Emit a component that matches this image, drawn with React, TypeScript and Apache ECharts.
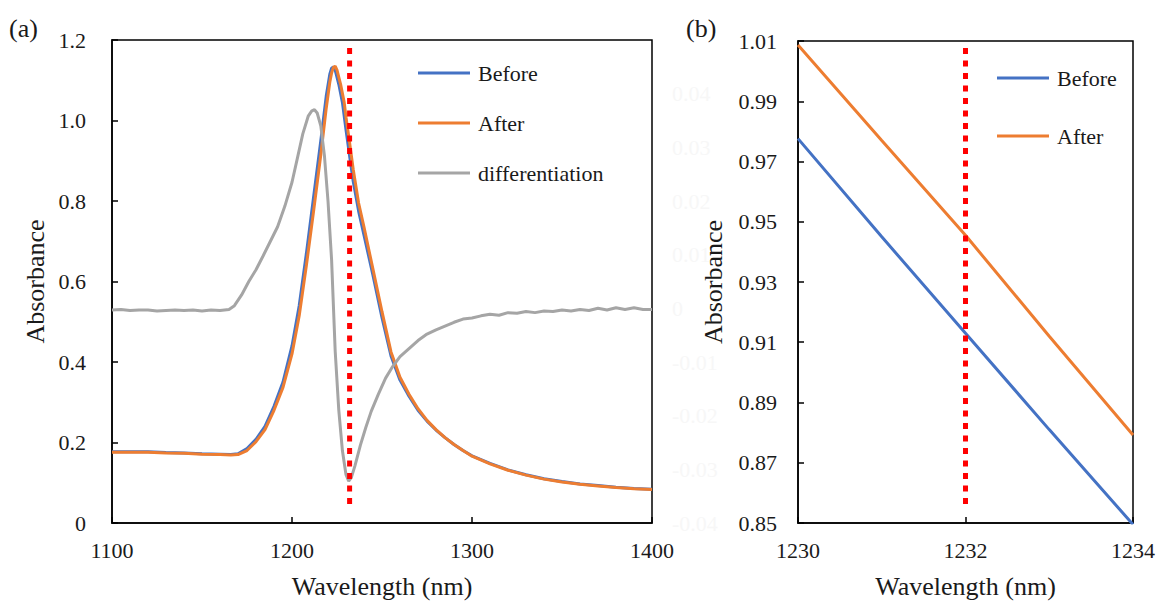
import React, { useEffect, useRef } from "react";
import * as echarts from "echarts";

// ---------- Panel (a) data ----------
const wlBeforeA = [1100, 1110, 1120, 1130, 1140, 1150, 1160, 1166, 1170, 1175, 1180, 1185, 1190, 1195, 1200, 1204, 1208, 1212, 1216, 1219, 1221, 1222, 1223, 1224, 1226, 1228, 1230, 1232, 1234, 1237, 1240, 1245, 1250, 1255, 1260, 1265, 1270, 1275, 1280, 1285, 1290, 1295, 1300, 1310, 1320, 1330, 1340, 1350, 1360, 1370, 1380, 1390, 1400];
const absBeforeA = [0.177, 0.177, 0.177, 0.175, 0.174, 0.172, 0.171, 0.170, 0.172, 0.185, 0.208, 0.240, 0.290, 0.350, 0.440, 0.540, 0.670, 0.810, 0.950, 1.060, 1.115, 1.130, 1.133, 1.125, 1.090, 1.045, 0.977, 0.912, 0.849, 0.775, 0.715, 0.615, 0.510, 0.415, 0.355, 0.315, 0.280, 0.253, 0.231, 0.212, 0.195, 0.180, 0.167, 0.148, 0.132, 0.120, 0.110, 0.103, 0.097, 0.093, 0.089, 0.086, 0.084];

const wlAfterA = [1100, 1110, 1120, 1130, 1140, 1150, 1160, 1166, 1170, 1175, 1180, 1185, 1190, 1195, 1200, 1204, 1208, 1212, 1216, 1219, 1221, 1222, 1223, 1224, 1225, 1227, 1229, 1230, 1232, 1234, 1237, 1240, 1245, 1250, 1255, 1260, 1265, 1270, 1275, 1280, 1285, 1290, 1295, 1300, 1310, 1320, 1330, 1340, 1350, 1360, 1370, 1380, 1390, 1400];
const absAfterA = [0.176, 0.176, 0.176, 0.174, 0.173, 0.171, 0.170, 0.169, 0.170, 0.180, 0.202, 0.232, 0.280, 0.337, 0.420, 0.515, 0.640, 0.775, 0.915, 1.030, 1.095, 1.118, 1.132, 1.135, 1.125, 1.090, 1.045, 1.008, 0.945, 0.879, 0.795, 0.735, 0.630, 0.525, 0.425, 0.362, 0.320, 0.284, 0.255, 0.232, 0.212, 0.195, 0.180, 0.166, 0.147, 0.131, 0.119, 0.109, 0.102, 0.096, 0.092, 0.088, 0.085, 0.083];

const wlDiff = [1100, 1105, 1110, 1115, 1120, 1125, 1130, 1135, 1140, 1145, 1150, 1155, 1160, 1165, 1168, 1172, 1176, 1180, 1184, 1188, 1192, 1196, 1200, 1203, 1206, 1209, 1211, 1212.5, 1214, 1216, 1218, 1220, 1222, 1224, 1226, 1228, 1230, 1231.5, 1233, 1235, 1238, 1241, 1244, 1248, 1252, 1256, 1260, 1265, 1270, 1275, 1280, 1285, 1290, 1295, 1300, 1305, 1310, 1315, 1320, 1325, 1330, 1335, 1340, 1345, 1350, 1355, 1360, 1365, 1370, 1375, 1380, 1385, 1390, 1395, 1400];
const diffVals = [-0.0003, -0.0002, -0.0004, -0.0003, -0.0003, -0.0005, -0.0004, -0.0003, -0.0004, -0.0003, -0.0005, -0.0003, -0.0004, -0.0002, 0.0005, 0.0025, 0.0050, 0.0072, 0.0098, 0.0125, 0.0152, 0.0190, 0.0235, 0.0280, 0.0325, 0.0358, 0.0368, 0.0370, 0.0364, 0.0340, 0.0285, 0.0200, 0.0090, -0.0080, -0.0190, -0.0265, -0.0310, -0.0322, -0.0315, -0.0293, -0.0255, -0.0222, -0.0192, -0.0160, -0.0130, -0.0108, -0.0090, -0.0075, -0.0060, -0.0048, -0.0040, -0.0033, -0.0026, -0.0020, -0.0018, -0.0014, -0.0011, -0.0013, -0.0008, -0.0009, -0.0006, -0.0008, -0.0005, -0.0006, -0.0003, -0.0005, -0.0002, -0.0004, 0.0000, -0.0003, 0.0001, -0.0002, 0.0001, -0.0002, -0.0002];

const markA = [[1232, 1.18], [1232, 0.035]];

// ---------- Panel (b) data ----------
const wlB = [1230, 1231, 1232, 1233, 1234];
const absBeforeB = [0.9776, 0.945, 0.913, 0.881, 0.8495];
const absAfterB = [1.0087, 0.977, 0.9455, 0.912, 0.8792];
const markB = [[1232, 1.0077], [1232, 0.856]];
const yTicksB = [0.85, 0.87, 0.89, 0.91, 0.93, 0.95, 0.97, 0.99, 1.01];

const BLUE = "#4472C4";
const ORANGE = "#ED7D31";
const GRAY = "#A5A5A5";
const RED = "#FF0000";
const FONT = "Liberation Serif";
const TXT = "#1a1a1a";

const zip = (xs: number[], ys: number[]) => xs.map((x, i) => [x, ys[i]]);

const CSS = `#chart-root text, #chart-root tspan { font-family: "Liberation Serif", "Times New Roman", serif !important; }`;

export default function App() {
  const ref = useRef<HTMLDivElement>(null);
  useEffect(() => {
    if (!ref.current) return;
    const chart = echarts.init(ref.current, null, { renderer: "svg" });
    const axisLine = { show: true, lineStyle: { color: "#000", width: 1.5 } };
    const tick = { show: true, inside: true, length: 6, lineStyle: { color: "#000", width: 1.5 } };
    const mkLabel = (margin: number, formatter: (v: number) => string, color: string = TXT, extra: any = {}) => ({
      color,
      fontFamily: FONT,
      fontSize: 22,
      margin,
      formatter,
      ...extra,
    });
    const nameStyle = () => ({ color: TXT, fontFamily: FONT, fontSize: 26 });
    const legendText = () => ({ color: TXT, fontFamily: FONT, fontSize: 22, lineHeight: 24, padding: [0, 0, 0, 3] });
    const option: any = {
      animation: false,
      textStyle: { fontFamily: FONT },
      graphic: [
        { type: "text", left: 9, top: 15, style: { text: "(a)", fontFamily: FONT, fontSize: 26, fill: TXT } },
        { type: "text", left: 686, top: 15, style: { text: "(b)", fontFamily: FONT, fontSize: 26, fill: TXT } },
      ],
      grid: [
        { left: 112, top: 40, width: 540, height: 487, show: true, borderColor: "#000", borderWidth: 1.5 },
        { left: 798, top: 41, width: 336, height: 486, show: true, borderColor: "#000", borderWidth: 1.5 },
      ],
      legend: [
        {
          data: ["Before", "After", "differentiation"],
          orient: "vertical",
          left: 418,
          top: 61,
          padding: 0,
          itemGap: 26,
          itemWidth: 52,
          itemHeight: 3,
          icon: "rect",
          selectedMode: false,
          textStyle: legendText(),
        },
        {
          data: ["Before ", "After "],
          orient: "vertical",
          left: 997,
          top: 66,
          padding: 0,
          itemGap: 34,
          itemWidth: 52,
          itemHeight: 3,
          icon: "rect",
          selectedMode: false,
          textStyle: legendText(),
        },
      ],
      xAxis: [
        {
          type: "value",
          gridIndex: 0,
          min: 1100,
          max: 1400,
          interval: 100,
          axisLine,
          axisTick: tick,
          splitLine: { show: false },
          axisLabel: mkLabel(16, (v) => String(v)),
          name: "Wavelength (nm)",
          nameLocation: "middle",
          nameGap: 50,
          nameTextStyle: nameStyle(),
        },
        {
          type: "value",
          gridIndex: 1,
          min: 1230,
          max: 1234,
          interval: 2,
          axisLine,
          axisTick: tick,
          splitLine: { show: false },
          axisLabel: mkLabel(16, (v) => String(v)),
          name: "Wavelength (nm)",
          nameLocation: "middle",
          nameGap: 50,
          nameTextStyle: nameStyle(),
        },
      ],
      yAxis: [
        {
          type: "value",
          gridIndex: 0,
          min: 0,
          max: 1.2,
          interval: 0.2,
          axisLine,
          axisTick: tick,
          splitLine: { show: false },
          axisLabel: mkLabel(26, (v) => (v === 0 ? "0" : v.toFixed(1))),
          name: "Absorbance",
          nameLocation: "middle",
          nameGap: 64,
          nameTextStyle: nameStyle(),
        },
        {
          type: "value",
          gridIndex: 0,
          position: "right",
          min: -0.04,
          max: 0.05,
          interval: 0.01,
          axisLine: { show: false },
          axisTick: { show: false },
          splitLine: { show: false },
          axisLabel: mkLabel(20, (v) => (Math.abs(v) < 1e-9 ? "0" : v.toFixed(2)), "#f7f7f7", { showMaxLabel: false }),
        },
        {
          type: "value",
          gridIndex: 1,
          min: 0.85,
          max: 1.01,
          axisLine,
          axisTick: { ...tick, customValues: yTicksB },
          splitLine: { show: false },
          axisLabel: mkLabel(21, (v) => v.toFixed(2), TXT, { customValues: yTicksB }),
          name: "Absorbance",
          nameLocation: "middle",
          nameGap: 72,
          nameTextStyle: nameStyle(),
        },
      ],
      series: [
        { name: "Before", type: "line", xAxisIndex: 0, yAxisIndex: 0, data: zip(wlBeforeA, absBeforeA), showSymbol: false, color: BLUE, lineStyle: { color: BLUE, width: 3 } },
        { name: "After", type: "line", xAxisIndex: 0, yAxisIndex: 0, data: zip(wlAfterA, absAfterA), showSymbol: false, color: ORANGE, lineStyle: { color: ORANGE, width: 3 } },
        { name: "differentiation", type: "line", xAxisIndex: 0, yAxisIndex: 1, data: zip(wlDiff, diffVals), showSymbol: false, color: GRAY, lineStyle: { color: GRAY, width: 3 } },
        { name: "markA", type: "line", xAxisIndex: 0, yAxisIndex: 0, data: markA, showSymbol: false, z: 10, color: RED, lineStyle: { color: RED, width: 5, type: [6, 6.5] } },
        { name: "Before ", type: "line", xAxisIndex: 1, yAxisIndex: 2, data: zip(wlB, absBeforeB), showSymbol: false, color: BLUE, lineStyle: { color: BLUE, width: 3 } },
        { name: "After ", type: "line", xAxisIndex: 1, yAxisIndex: 2, data: zip(wlB, absAfterB), showSymbol: false, color: ORANGE, lineStyle: { color: ORANGE, width: 3 } },
        { name: "markB", type: "line", xAxisIndex: 1, yAxisIndex: 2, data: markB, showSymbol: false, z: 10, color: RED, lineStyle: { color: RED, width: 5, type: [6, 6.5] } },
      ],
    };
    chart.setOption(option);
    return () => chart.dispose();
  }, []);
  return (
    <>
      <style>{CSS}</style>
      <div
        id="chart-root"
        ref={ref}
        style={{ position: "absolute", left: 0, top: 0, width: 1158, height: 604, background: "#fff" }}
      />
    </>
  );
}
